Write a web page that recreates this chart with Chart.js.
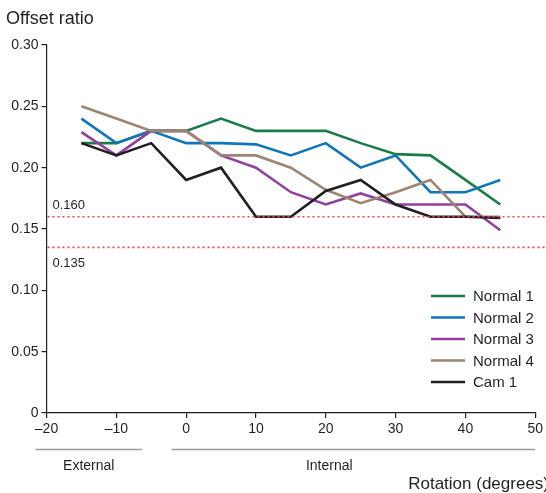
<!DOCTYPE html>
<html>
<head>
<meta charset="utf-8">
<script src="https://cdn.jsdelivr.net/npm/chart.js@4.4.0/dist/chart.umd.min.js"></script>
<style>
  html, body { margin: 0; padding: 0; background: #fff; }
  #wrap { width: 546px; height: 493px; position: relative; }
</style>
</head>
<body>
<div id="wrap"><canvas id="chart"></canvas></div>
<script>
// ========== Data ==========
const rotation = [-15, -10, -5, 0, 5, 10, 15, 20, 25, 30, 35, 40, 45];
const normal1 = [0.22, 0.22, 0.23, 0.23, 0.24, 0.23, 0.23, 0.23, 0.22, 0.211, 0.21, 0.19, 0.17];
const normal2 = [0.24, 0.22, 0.23, 0.22, 0.22, 0.219, 0.21, 0.22, 0.20, 0.21, 0.18, 0.18, 0.19];
const normal3 = [0.229, 0.21, 0.23, 0.23, 0.21, 0.20, 0.18, 0.17, 0.179, 0.17, 0.17, 0.17, 0.149];
const normal4 = [0.25, 0.24, 0.23, 0.23, 0.21, 0.21, 0.20, 0.182, 0.171, 0.18, 0.19, 0.16, 0.16];
const cam1 = [0.22, 0.21, 0.22, 0.19, 0.20, 0.16, 0.16, 0.181, 0.19, 0.17, 0.16, 0.16, 0.159];

const seriesNames = ["Normal 1", "Normal 2", "Normal 3", "Normal 4", "Cam 1"];
const seriesColors = ["#1a7c48", "#1176b9", "#92419c", "#9c8572", "#231f20"];
const refLines = [0.160, 0.135];
const refLabels = ["0.160", "0.135"];
const groups = [
  { label: "External", from: -21.6, to: -6.3 },
  { label: "Internal", from: -2.1, to: 50 }
];

const FONT = "'Liberation Sans', Arial, Helvetica, sans-serif";
const TEXT = "#231f20";

const allSeries = [normal1, normal2, normal3, normal4, cam1];
const datasets = allSeries.map((vals, i) => ({
  label: seriesNames[i],
  data: rotation.map((x, j) => ({ x: x, y: vals[j] })),
  borderColor: seriesColors[i],
  backgroundColor: seriesColors[i],
  borderWidth: 2.6,
  pointRadius: 0,
  tension: 0,
  fill: false,
  order: allSeries.length - i
}));

// ========== Extra drawing: ref lines, legend, labels ==========
const extras = {
  id: "extras",
  afterDatasetsDraw(chart) {
    const ctx = chart.ctx;
    const area = chart.chartArea;
    const xs = chart.scales.x;
    const ys = chart.scales.y;
    ctx.save();

    // dotted reference lines
    ctx.strokeStyle = "#e8464b";
    ctx.lineWidth = 1.6;
    ctx.setLineDash([2, 3]);
    refLines.forEach(v => {
      const y = ys.getPixelForValue(v);
      ctx.beginPath();
      ctx.moveTo(area.left + 1, y);
      ctx.lineTo(chart.width, y);
      ctx.stroke();
    });
    ctx.setLineDash([]);
    ctx.fillStyle = TEXT;
    ctx.font = "13px " + FONT;
    ctx.textAlign = "left";
    ctx.textBaseline = "middle";
    ctx.fillText(refLabels[0], area.left + 6, ys.getPixelForValue(refLines[0]) - 11);
    ctx.fillText(refLabels[1], area.left + 6, ys.getPixelForValue(refLines[1]) + 16);

    // legend inside the plot
    ctx.font = "15px " + FONT;
    seriesNames.forEach((name, i) => {
      const y = 296 + i * 21.5;
      ctx.strokeStyle = seriesColors[i];
      ctx.lineWidth = 2.6;
      ctx.beginPath();
      ctx.moveTo(431, y);
      ctx.lineTo(465, y);
      ctx.stroke();
      ctx.fillStyle = TEXT;
      ctx.fillText(name, 473, y + 1);
    });

    // External / Internal brackets under the x axis
    ctx.strokeStyle = "#9a9a9a";
    ctx.lineWidth = 1.3;
    ctx.font = "14px " + FONT;
    ctx.textAlign = "center";
    groups.forEach(g => {
      const a = xs.getPixelForValue(g.from);
      const b = xs.getPixelForValue(g.to);
      ctx.beginPath();
      ctx.moveTo(a, 449.5);
      ctx.lineTo(b, 449.5);
      ctx.stroke();
      ctx.fillStyle = TEXT;
      const mid = g.label === "Internal" ? xs.getPixelForValue(20.5) : (a + b) / 2;
      ctx.fillText(g.label, mid, 466);
    });

    // titles
    ctx.font = "18px " + FONT;
    ctx.textAlign = "left";
    ctx.fillText("Offset ratio", 6, 19);
    ctx.font = "17px " + FONT;
    ctx.textAlign = "right";
    ctx.fillText("Rotation (degrees)", 549, 484);
    ctx.restore();
  }
};

// ========== Chart ==========
new Chart(document.getElementById("chart"), {
  type: "line",
  data: { datasets: datasets },
  options: {
    responsive: true,
    maintainAspectRatio: false,
    animation: false,
    layout: { padding: { top: 45, right: 8, left: 0, bottom: 0 } },
    plugins: {
      legend: { display: false },
      title: { display: false },
      tooltip: { enabled: false }
    },
    scales: {
      x: {
        type: "linear",
        min: -20,
        max: 50,
        afterFit: s => { s.height = 80; },
        border: { display: true, color: TEXT, width: 1.2 },
        grid: { drawOnChartArea: false, drawTicks: true, tickLength: 5, color: TEXT, lineWidth: 1.2 },
        ticks: {
          stepSize: 10,
          padding: 3,
          color: TEXT,
          font: { family: FONT, size: 14 },
          callback: v => (v < 0 ? "\u2013" + Math.abs(v) : String(v))
        }
      },
      y: {
        min: 0,
        max: 0.30,
        afterFit: s => { s.width = 46.5; },
        border: { display: true, color: TEXT, width: 1.2 },
        grid: { drawOnChartArea: false, drawTicks: true, tickLength: 5, color: TEXT, lineWidth: 1.2 },
        ticks: {
          stepSize: 0.05,
          padding: 3,
          color: TEXT,
          font: { family: FONT, size: 14 },
          callback: v => (v === 0 ? "0" : v.toFixed(2))
        }
      }
    }
  },
  plugins: [extras]
});
</script>
</body>
</html>
